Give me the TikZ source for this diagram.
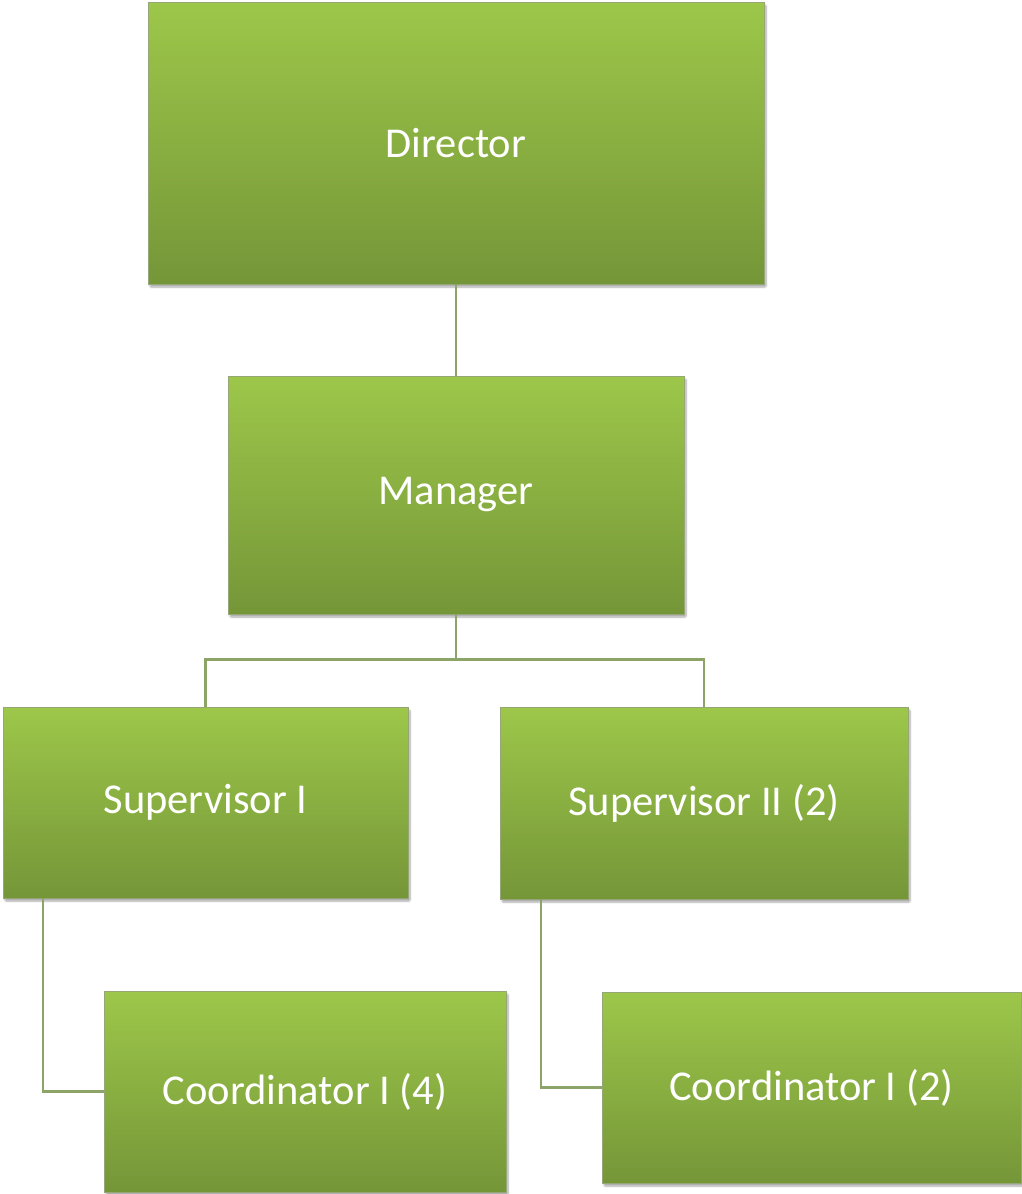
\documentclass[tikz,border=0pt]{standalone}
\usepackage{fontspec}
\setmainfont{Carlito}
\usetikzlibrary{shadows.blur}
\definecolor{boxtop}{RGB}{157,199,74}
\definecolor{boxbot}{RGB}{117,150,56}
\definecolor{boxedge}{RGB}{150,166,118}
\definecolor{linkc}{RGB}{140,164,104}
\tikzset{
  orgbox/.style={rectangle, draw=boxedge, line width=0.8pt,
    top color=boxtop, bottom color=boxbot,
    blur shadow={shadow xshift=2pt, shadow yshift=-3pt, shadow blur steps=6, shadow blur extra rounding=1pt, shadow opacity=35},
    text=white, font=\fontsize{42.5}{48}\selectfont, inner sep=0pt},
  link/.style={draw=linkc, line width=2.4pt}
}
\begin{document}
\begin{tikzpicture}[x=1pt,y=-1pt]
\useasboundingbox (0,0) rectangle (1022,1194);
\node[orgbox, minimum width=616pt, minimum height=282pt] (dir) at (456,143) {Director};
\node[orgbox, minimum width=456pt, minimum height=238pt] (mgr) at (456,495) {Manager};
\node[orgbox, minimum width=405pt, minimum height=191pt] (sup1) at (205.5,802.5) {Supervisor I};
\node[orgbox, minimum width=408pt, minimum height=192pt] (sup2) at (704,803) {Supervisor II (2)};
\node[orgbox, minimum width=402pt, minimum height=201pt] (co4) at (305,1091.5) {Coordinator I (4)};
\node[orgbox, minimum width=419pt, minimum height=191pt] (co2) at (811.5,1087.5) {Coordinator I (2)};
% reporting lines
\draw[link] (dir.south) -- (mgr.north);
\draw[link] (mgr.south) -- ++(0,45) coordinate (bus) -| (sup1.north);
\draw[link] (bus) -| (sup2.north);
\draw[link] ([xshift=-162.5pt]sup1.south) |- (co4.west);
\draw[link] ([xshift=-163pt]sup2.south) |- (co2.west);
\end{tikzpicture}
\end{document}
